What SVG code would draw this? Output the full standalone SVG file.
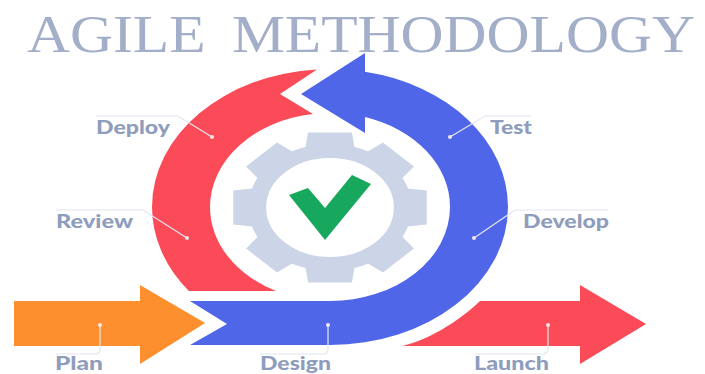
<svg xmlns="http://www.w3.org/2000/svg" width="705" height="374" viewBox="0 0 705 374">
<style>
.title{font-family:"Liberation Serif",serif;font-size:52px;fill:#a3afc9;word-spacing:10px}
.lbl{font-family:"Lato","Liberation Sans",sans-serif;font-weight:900;font-size:18px;fill:#8f9dbd}
.lead{fill:none;stroke:#e3e6f0;stroke-width:1.2}
.dot{fill:#f3e6e6}
.gear{fill:#ccd5e8}
</style>
<rect width="705" height="374" fill="#fff"/>
<text class="title" x="27" y="52" textLength="668" lengthAdjust="spacingAndGlyphs">AGILE METHODOLOGY</text>
<g id="review-deploy"><path d="M317 69.4A178 138 0 0 0 152 207A178 138 0 0 0 188.8 291H276A120 94 0 0 1 210 207A120 94 0 0 1 313 114L280 94Z" fill="#fb4a58"/></g>
<g id="test-develop-design"><path d="M301 94L365 53V71.7A178 138 0 0 1 508 207A178 138 0 0 1 330 345H190L227 324L190 301H330A120 94 0 0 0 450 207A120 94 0 0 0 365 117V133Z" fill="#5066e8"/></g>
<g id="plan"><path d="M14 301H140V285L205 323L140 364V346H14Z" fill="#fd8f2e"/></g>
<g id="launch"><path d="M402 346C428 340 458 322 480 301H580V285L646 324L580 364V346Z" fill="#fb4a58"/></g>
<g id="gear" transform="translate(330 207.5) scale(1.29 1)">
<circle r="56.5" fill="none" stroke="#ccd5e8" stroke-width="14"/>
<g class="gear">
<polygon id="t" points="-19,-60 -17,-75 17,-75 19,-60"/>
<use href="#t" transform="rotate(45)"/><use href="#t" transform="rotate(90)"/><use href="#t" transform="rotate(135)"/><use href="#t" transform="rotate(180)"/><use href="#t" transform="rotate(225)"/><use href="#t" transform="rotate(270)"/><use href="#t" transform="rotate(315)"/>
</g>
</g>
<g id="check"><path d="M289 195L308 188L325 208L352 175L371 184L325 240Z" fill="#17a85e"/></g>
<g id="connectors">
<path class="lead" d="M96 116H178L212 137"/><circle class="dot" cx="212" cy="137" r="2"/>
<path class="lead" d="M56 210H143L187 238"/><circle class="dot" cx="187" cy="238" r="2"/>
<path class="lead" d="M531 116H485L450 137"/><circle class="dot" cx="450" cy="137" r="2"/>
<path class="lead" d="M608 210H515L474 238"/><circle class="dot" cx="474" cy="238" r="2"/>
<path class="lead" d="M56 354H95Q100 354 100 349V325"/><circle class="dot" cx="100" cy="325" r="2"/>
<path class="lead" d="M260 354H323Q328 354 328 349V325"/><circle class="dot" cx="328" cy="325" r="2"/>
<path class="lead" d="M475 354H542Q548 354 548 349V325"/><circle class="dot" cx="548" cy="325" r="2"/>
</g>
<text class="lbl" x="96" y="134" textLength="74" lengthAdjust="spacingAndGlyphs">Deploy</text>
<text class="lbl" x="490" y="134" textLength="42" lengthAdjust="spacingAndGlyphs">Test</text>
<text class="lbl" x="56" y="228" textLength="77" lengthAdjust="spacingAndGlyphs">Review</text>
<text class="lbl" x="523" y="228" textLength="86" lengthAdjust="spacingAndGlyphs">Develop</text>
<text class="lbl" x="55" y="370" textLength="48" lengthAdjust="spacingAndGlyphs">Plan</text>
<text class="lbl" x="260" y="370" textLength="71" lengthAdjust="spacingAndGlyphs">Design</text>
<text class="lbl" x="474" y="370" textLength="75" lengthAdjust="spacingAndGlyphs">Launch</text>
</svg>
